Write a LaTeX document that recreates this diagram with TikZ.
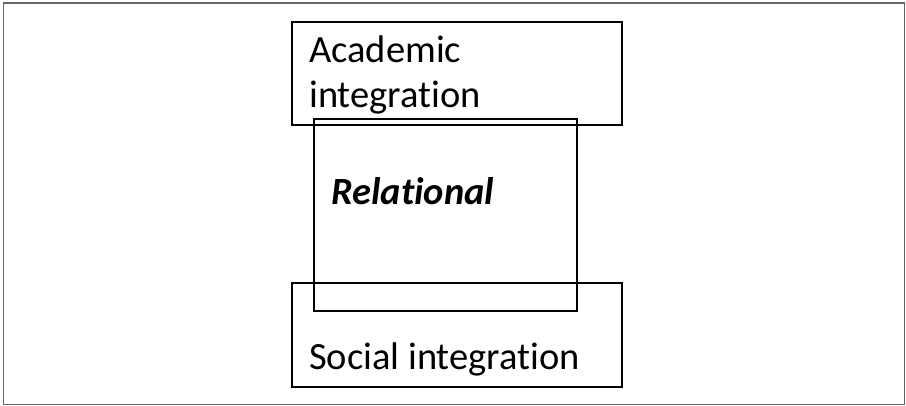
\documentclass[tikz,border=0pt]{standalone}
\usepackage{fontspec}
\setmainfont{Carlito}[Ligatures={NoCommon,NoRequired,NoContextual}, RawFeature={-liga;-clig;-calt}]
\begin{document}
\begin{tikzpicture}[x=1pt,y=-1pt,
  box/.style={draw=black, line width=1.8pt, rectangle, inner sep=0pt, outer sep=0pt},
  lbl/.style={anchor=base west, inner sep=0pt, font=\fontsize{38.5}{45}\selectfont}]
\useasboundingbox (0,0) rectangle (906,406);
\draw[draw=black!60, line width=1.5pt] (3.5,3) rectangle (904.5,404.5);
\node[box, minimum width=330pt, minimum height=103pt] (acad) at (457,73.5) {};
\node[box, minimum width=263pt, minimum height=192pt] (rel) at (445.5,215) {};
\node[box, minimum width=330pt, minimum height=104pt] (soc) at (457,335) {};
\node[lbl] (acadA) at (309,63) {Academic};
\node[lbl] (acadB) at (309,108) {integration};
\node[lbl, font=\fontsize{38.5}{45}\selectfont\bfseries\itshape] (relt) at (331,205) {Relational};
\node[lbl] (soct) at (309,370) {Social integration};
\end{tikzpicture}
\end{document}
